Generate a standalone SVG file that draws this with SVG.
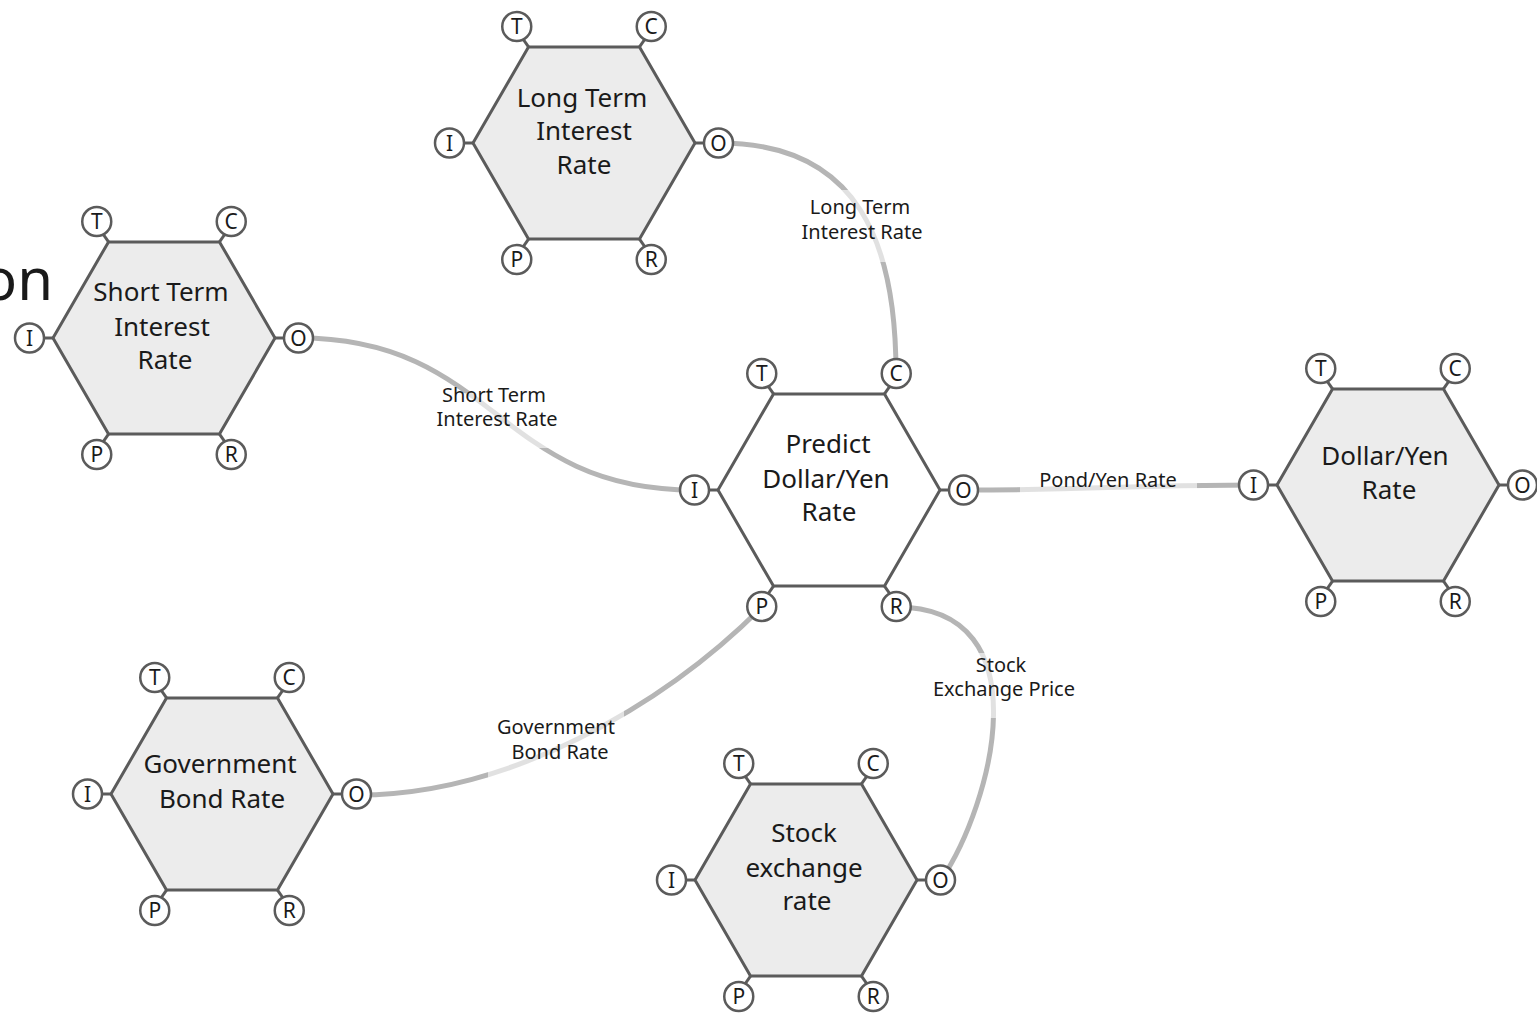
<svg xmlns="http://www.w3.org/2000/svg" xmlns:xlink="http://www.w3.org/1999/xlink" width="1537" height="1017" viewBox="0 0 1537 1017">
  <style>
    .hex { stroke: #5b5b5b; stroke-width: 3; stroke-linejoin: miter; }
    .stub { stroke: #5b5b5b; stroke-width: 3; }
    .port { fill: #ffffff; stroke: #5b5b5b; stroke-width: 2.5; }
    .pl { font-family: "Noto Sans", "Open Sans", sans-serif; font-size: 21px; fill: #1a1a1a; text-anchor: middle; }
    .nl { font-family: "Noto Sans", "Open Sans", sans-serif; font-size: 26px; fill: #1a1a1a; text-anchor: middle; }
    .edge { fill: none; stroke: #b5b5b5; stroke-width: 5; }
    .lbg { fill: #ffffff; fill-opacity: 0.6; }
    .el { font-family: "Noto Sans", "Open Sans", sans-serif; font-size: 20px; fill: #1a1a1a; text-anchor: middle; }
    .title { font-family: "Noto Sans", "Open Sans", sans-serif; font-size: 58px; fill: #1a1a1a; text-anchor: end; }
  </style>
  <defs>
    <!-- hexagon body with its six ports; fill comes from the using element -->
    <g id="hexframe">
      <polygon class="hex" points="111,0 55.5,96.1 -55.5,96.1 -111,0 -55.5,-96.1 55.5,-96.1"/>
      <line class="stub" x1="-55.5" y1="-96.1" x2="-61" y2="-104"/>
      <line class="stub" x1="55.5" y1="-96.1" x2="61" y2="-104"/>
      <line class="stub" x1="-111" y1="0" x2="-120" y2="0"/>
      <line class="stub" x1="111" y1="0" x2="120" y2="0"/>
      <line class="stub" x1="-55.5" y1="96.1" x2="-61" y2="104"/>
      <line class="stub" x1="55.5" y1="96.1" x2="61" y2="104"/>
      <circle class="port" cx="-67.25" cy="-116.5" r="14.5"/>
      <circle class="port" cx="67.25" cy="-116.5" r="14.5"/>
      <circle class="port" cx="-134.5" cy="0" r="14.5"/>
      <circle class="port" cx="134.5" cy="0" r="14.5"/>
      <circle class="port" cx="-67.25" cy="116.5" r="14.5"/>
      <circle class="port" cx="67.25" cy="116.5" r="14.5"/>
      <text class="pl" x="-67.25" y="-109">T</text>
      <text class="pl" x="67.25" y="-109">C</text>
      <text class="pl" x="-134.5" y="7.5">I</text>
      <text class="pl" x="134.5" y="7.5">O</text>
      <text class="pl" x="-67.25" y="124">P</text>
      <text class="pl" x="67.25" y="124">R</text>
    </g>
  </defs>

  <rect width="1537" height="1017" fill="#ffffff"/>

  <text class="title" x="53" y="300">on</text>

  <g id="connectors">
    <!-- Long Term Interest Rate O -> Predict C -->
    <path class="edge" d="M719,143 C860,143 896,245 896,373"/>
    <!-- Short Term Interest Rate O -> Predict I -->
    <path class="edge" d="M299,338 C496,338 496,490 694,490"/>
    <!-- Predict O -> Dollar/Yen I -->
    <path class="edge" d="M964,490 C1108,490 1108,485 1253,485"/>
    <!-- Government Bond Rate O -> Predict P -->
    <path class="edge" d="M357,795 C508,795 662,707 762,607"/>
    <!-- Predict R -> Stock exchange O -->
    <path class="edge" d="M896,607 C1045,607 992,805 941,880"/>

    <rect class="lbg" x="792" y="190" width="140" height="72"/>
    <text class="el" x="860" y="213.5">Long Term</text>
    <text class="el" x="862" y="239">Interest Rate</text>

    <rect class="lbg" x="426" y="393" width="142" height="55"/>
    <text class="el" x="494" y="401.5">Short Term</text>
    <text class="el" x="497" y="425.5">Interest Rate</text>

    <rect class="lbg" x="1020" y="466" width="177" height="34"/>
    <text class="el" x="1108" y="486.5">Pond/Yen Rate</text>

    <rect class="lbg" x="488" y="705" width="136" height="80"/>
    <text class="el" x="556" y="734">Government</text>
    <text class="el" x="560" y="759">Bond Rate</text>

    <rect class="lbg" x="925" y="653" width="158" height="65"/>
    <text class="el" x="1001" y="671.5">Stock</text>
    <text class="el" x="1004" y="696">Exchange Price</text>
  </g>

  <g id="node-long-term" transform="translate(584,143)">
    <use href="#hexframe" xlink:href="#hexframe" fill="#ececec"/>
    <text class="nl" x="-2" y="-36">Long Term</text>
    <text class="nl" x="0" y="-3">Interest</text>
    <text class="nl" x="0" y="30.5">Rate</text>
  </g>

  <g id="node-short-term" transform="translate(164,338)">
    <use href="#hexframe" xlink:href="#hexframe" fill="#ececec"/>
    <text class="nl" x="-3" y="-37">Short Term</text>
    <text class="nl" x="-2" y="-2.5">Interest</text>
    <text class="nl" x="1" y="31">Rate</text>
  </g>

  <g id="node-predict" transform="translate(829,490)">
    <use href="#hexframe" xlink:href="#hexframe" fill="#ffffff"/>
    <text class="nl" x="-1" y="-37.5">Predict</text>
    <text class="nl" x="-3" y="-2.5">Dollar/Yen</text>
    <text class="nl" x="0" y="30.5">Rate</text>
  </g>

  <g id="node-dollar-yen" transform="translate(1388,485)">
    <use href="#hexframe" xlink:href="#hexframe" fill="#ececec"/>
    <text class="nl" x="-3" y="-20">Dollar/Yen</text>
    <text class="nl" x="1" y="13.5">Rate</text>
  </g>

  <g id="node-government" transform="translate(222,794)">
    <use href="#hexframe" xlink:href="#hexframe" fill="#ececec"/>
    <text class="nl" x="-2" y="-21">Government</text>
    <text class="nl" x="0" y="13.5">Bond Rate</text>
  </g>

  <g id="node-stock" transform="translate(806,880)">
    <use href="#hexframe" xlink:href="#hexframe" fill="#ececec"/>
    <text class="nl" x="-2" y="-38">Stock</text>
    <text class="nl" x="-2" y="-3">exchange</text>
    <text class="nl" x="1" y="30">rate</text>
  </g>
</svg>
